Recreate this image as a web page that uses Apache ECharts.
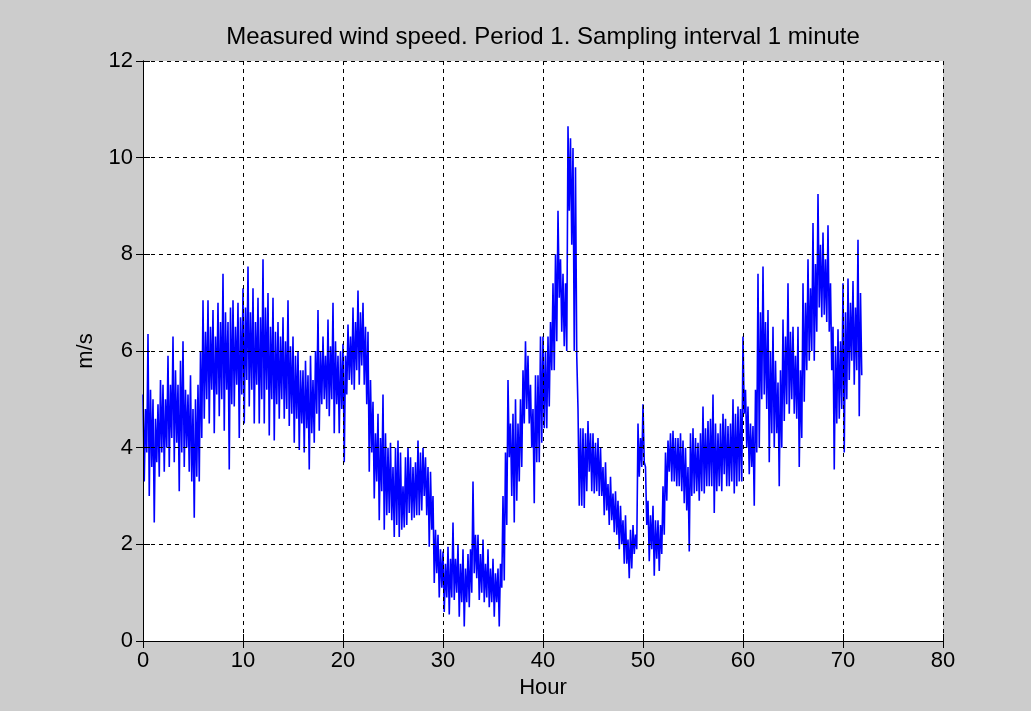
<!DOCTYPE html>
<html>
<head>
<meta charset="utf-8">
<script src="https://cdn.jsdelivr.net/npm/echarts@6/dist/echarts.min.js"></script>
<style>
html,body{margin:0;padding:0;background:#cccccc;}
#chart{width:1031px;height:711px;}
</style>
</head>
<body>
<div id="chart"></div>
<script>
// Wind speed (m/s): per quarter hour, the top and bottom of the noisy trace
const stepHours = 0.25;
const upperSpeed = [
5.1,4.8,6.35,5.2,  5.0,4.6,4.9,5.4,  5.3,5.0,5.9,5.3,  6.3,5.6,5.3,5.8,
6.2,5.2,5.1,5.5,  4.8,5.0,5.3,6.0,  7.05,6.4,7.05,6.5,  6.85,6.3,7.0,6.6,
7.6,6.8,6.6,6.9,  7.05,6.5,7.0,6.7,  7.3,6.9,7.75,6.8,  7.3,6.6,7.1,6.7,
7.9,6.9,7.2,6.5,  7.1,6.4,6.6,6.3,  6.7,6.2,7.05,6.1,  6.3,5.9,6.0,5.6,
5.6,5.8,5.5,5.9,  5.4,6.0,6.85,6.0,  6.3,5.9,6.65,6.1,  7.0,6.2,5.9,6.0,
6.15,5.9,6.55,6.3,  6.9,6.6,7.25,6.8,  7.0,6.5,6.4,5.4,  4.95,4.3,4.7,4.2,
5.1,4.3,4.0,4.1,  3.6,4.0,4.15,3.9,  3.2,3.8,4.0,3.8,  3.6,3.7,4.15,3.9,
4.0,3.8,3.6,3.5,  3.0,2.3,2.2,1.9,  1.85,1.6,1.95,1.7,  2.45,1.7,2.0,1.6,
1.9,1.5,1.8,1.9,  3.3,2.2,2.2,1.8,  2.1,1.6,1.9,1.5,  1.7,1.4,1.5,1.6,
3.0,3.9,5.4,4.5,  4.7,5.0,4.5,5.0,  5.6,6.2,5.9,5.3,  4.8,5.5,5.5,6.3,
6.3,6.0,6.3,6.6,  7.4,8.0,8.9,7.9,  7.6,7.4,10.65,10.4,  10.2,9.8,4.8,4.4,
4.4,4.3,4.55,4.3,  4.3,4.1,4.2,4.0,  3.6,3.7,3.25,3.4,  3.05,3.1,2.9,2.8,
2.5,2.6,2.1,2.3,  2.4,2.2,4.5,4.2,  4.9,3.6,2.9,2.6,  2.8,2.5,2.5,2.4,
3.2,3.9,4.15,4.3,  4.35,4.2,4.2,4.3,  4.15,4.0,3.6,4.3,  4.4,4.2,4.1,4.3,
4.85,4.4,4.55,4.6,  5.1,4.5,4.3,4.5,  4.7,4.6,4.45,4.5,  5.0,4.7,4.85,4.8,
6.3,5.2,4.85,4.5,  4.45,5.2,7.6,6.8,  7.75,6.6,6.85,6.0,  6.5,5.8,5.35,5.6,
6.65,6.3,7.4,6.4,  6.5,5.9,6.5,5.6,  7.4,7.0,7.9,7.3,  8.65,7.8,9.25,8.2,
8.45,7.9,8.6,7.4,  6.5,6.1,6.45,6.2,  7.4,6.8,7.5,7.0,  7.45,6.9,8.3,7.2
];
const lowerSpeed = [
3.3,3.9,3.0,3.6,  2.45,3.7,3.4,3.9,  3.5,4.0,3.6,4.2,  3.7,4.1,3.1,3.9,
3.6,4.0,3.5,3.3,  2.55,3.4,3.3,4.2,  4.6,5.0,4.5,5.2,  4.3,5.1,4.65,5.0,
4.35,5.2,3.55,4.9,  4.85,5.3,4.2,5.1,  4.5,5.4,4.85,5.2,  4.5,5.3,4.5,5.0,
4.5,5.2,4.25,5.0,  4.15,4.9,4.6,5.0,  4.6,4.8,4.45,4.7,  4.1,4.6,3.95,4.5,
3.9,4.4,3.55,4.3,  4.1,4.7,4.35,4.9,  5.0,4.8,4.65,5.0,  4.3,4.9,4.3,4.8,
3.7,5.1,5.4,5.3,  5.2,5.6,5.3,5.7,  5.3,4.9,3.5,3.9,  2.95,3.3,2.5,3.1,
2.3,2.6,2.65,2.5,  2.15,2.4,2.15,2.3,  2.35,2.4,2.65,2.5,  2.55,2.6,2.6,2.7,
3.0,2.6,1.95,2.3,  1.2,1.4,0.9,1.1,  0.6,0.9,0.55,0.9,  0.85,1.0,0.5,0.8,
0.3,0.8,0.7,1.0,  1.4,1.3,0.85,1.0,  0.8,0.9,0.7,0.8,  0.5,0.8,0.3,1.1,
1.25,2.4,3.8,3.0,  2.45,2.9,3.3,3.6,  4.5,4.8,4.5,4.0,  2.85,3.7,3.7,4.1,
4.4,4.4,4.85,5.6,  5.6,6.2,7.1,6.4,  6.1,6.0,8.9,8.2,  6.0,5.9,2.8,2.8,
2.75,3.1,3.5,3.1,  3.05,3.1,3.0,3.0,  2.6,2.7,2.4,2.5,  2.25,2.2,1.9,2.0,
1.6,1.6,1.3,1.5,  1.8,1.9,3.4,3.6,  3.7,2.4,1.65,1.9,  1.35,1.7,1.45,1.8,
2.2,2.9,3.5,3.3,  3.3,3.2,3.2,3.1,  2.85,2.7,1.85,3.0,  3.05,3.1,2.9,3.1,
3.05,3.2,3.2,3.2,  2.65,3.1,3.2,3.1,  3.45,3.2,3.2,3.3,  3.05,3.2,3.3,3.3,
4.7,4.0,3.45,3.6,  2.8,3.9,4.0,5.0,  5.1,4.8,3.7,4.3,  4.0,4.3,3.2,4.0,
4.55,4.9,4.7,5.0,  4.7,4.6,3.6,4.2,  4.95,5.6,5.8,6.0,  5.8,6.4,6.9,6.7,
6.75,6.6,6.4,5.6,  3.55,4.5,4.6,4.8,  3.9,5.0,5.4,5.8,  5.3,5.6,4.65,5.5
];
const xTicks = [0,10,20,30,40,50,60,70,80];
const yTicks = [0,2,4,6,8,10,12];
const titleText = 'Measured wind speed. Period 1. Sampling interval 1 minute';
const xName = 'Hour';
const yName = 'm/s';

const seriesData = [];
for (let i = 0; i < upperSpeed.length; i++) {
  seriesData.push([i * stepHours, upperSpeed[i]]);
  seriesData.push([i * stepHours + stepHours / 2, lowerSpeed[i]]);
}

const font = 'Liberation Sans, Arial, sans-serif';
const gridDash = {type: [4, 4], color: '#000', width: 1};
const axisLine = {show: true, lineStyle: {color: '#000', width: 1}};

const chart = echarts.init(document.getElementById('chart'), null, {renderer: 'canvas'});
chart.setOption({
  backgroundColor: '#cccccc',
  animation: false,
  title: {
    text: titleText, left: 538, top: 20, textAlign: 'center',
    textStyle: {fontFamily: font, fontSize: 24, fontWeight: 'normal', color: '#000'}
  },
  grid: {left: 143, right: 88, top: 61, bottom: 70, show: true, backgroundColor: '#fff', borderWidth: 0},
  xAxis: [{
    type: 'value', min: xTicks[0], max: xTicks[xTicks.length - 1], interval: 10, z: 5,
    name: xName, nameLocation: 'middle', nameGap: 34,
    nameTextStyle: {fontFamily: font, fontSize: 22, color: '#000'},
    axisLine: axisLine,
    axisTick: {show: true, inside: true, length: 7, lineStyle: {color: '#000'}},
    axisLabel: {fontFamily: font, fontSize: 22, color: '#000', margin: 9},
    splitLine: {show: true, lineStyle: gridDash}
  }, {
    type: 'value', position: 'top', min: xTicks[0], max: xTicks[xTicks.length - 1], interval: 10, z: 5,
    axisLine: axisLine,
    axisTick: {show: true, inside: true, length: 7, lineStyle: {color: '#000'}},
    axisLabel: {show: false}, splitLine: {show: false}
  }],
  yAxis: [{
    type: 'value', min: yTicks[0], max: yTicks[yTicks.length - 1], interval: 2, z: 5,
    name: yName, nameLocation: 'middle', nameGap: 46, nameRotate: 90,
    nameTextStyle: {fontFamily: font, fontSize: 22, color: '#000'},
    axisLine: axisLine,
    axisTick: {show: true, inside: true, length: 7, lineStyle: {color: '#000'}},
    axisLabel: {fontFamily: font, fontSize: 22, color: '#000', margin: 10},
    splitLine: {show: true, lineStyle: gridDash}
  }, {
    type: 'value', position: 'right', min: yTicks[0], max: yTicks[yTicks.length - 1], interval: 2, z: 5,
    axisLine: axisLine,
    axisTick: {show: true, inside: true, length: 7, lineStyle: {color: '#000'}},
    axisLabel: {show: false}, splitLine: {show: false}
  }],
  series: [{
    type: 'line', data: seriesData, xAxisIndex: 0, yAxisIndex: 0, z: 2,
    showSymbol: false, symbol: 'none', sampling: null,
    lineStyle: {color: '#0000ff', width: 1.6}
  }]
});
</script>
</body>
</html>
